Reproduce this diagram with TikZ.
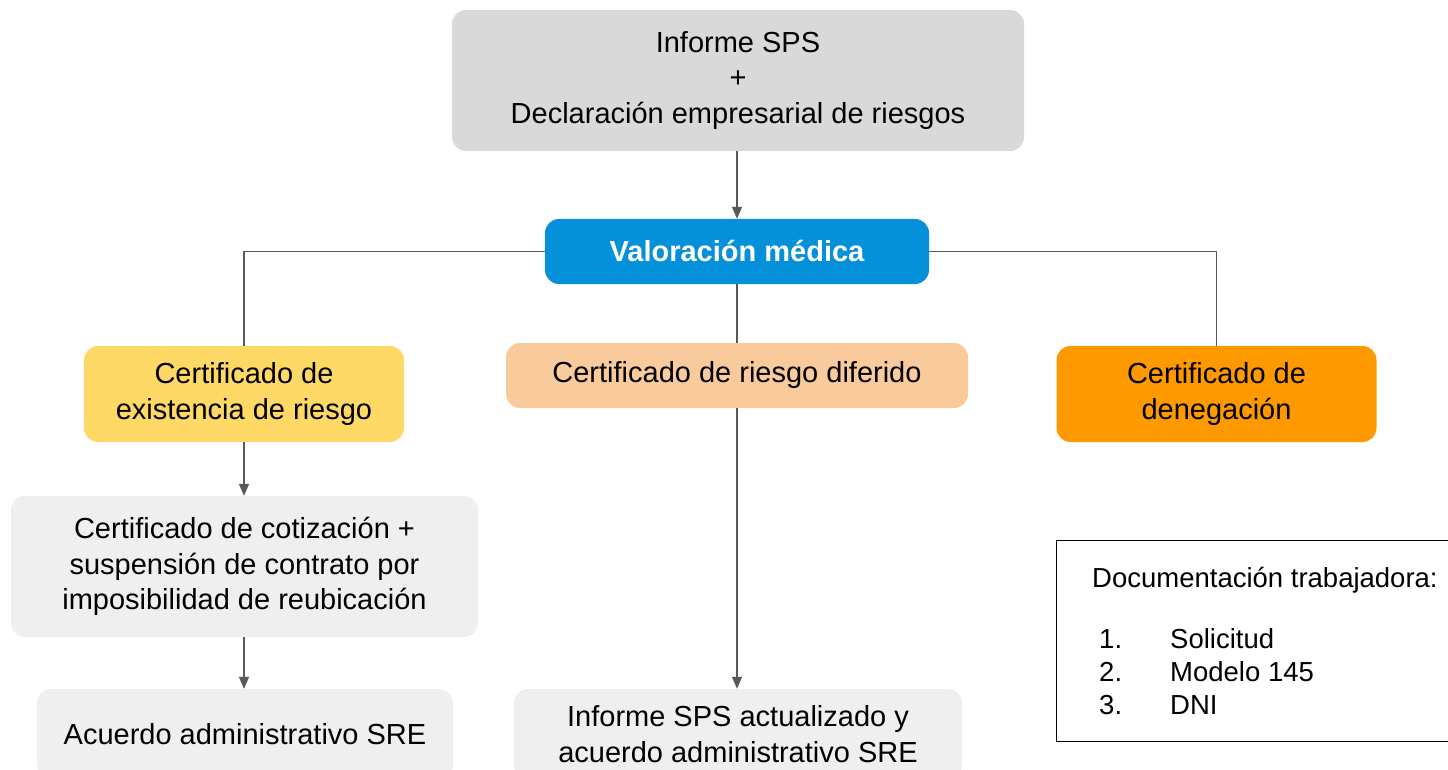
\documentclass[tikz,border=0pt]{standalone}
\usepackage{fontspec}
\setmainfont{Liberation Sans}
\usetikzlibrary{arrows.meta, positioning}
\definecolor{gristop}{HTML}{D9D9D9}
\definecolor{grisclaro}{HTML}{EFEFEF}
\definecolor{azul}{HTML}{0591DA}
\definecolor{amarillo}{HTML}{FFD966}
\definecolor{melocoton}{HTML}{F9CB9C}
\definecolor{naranja}{HTML}{FF9900}
\definecolor{linea}{HTML}{595959}
\tikzset{
    card/.style={rectangle, rounded corners=14pt, align=center, inner sep=0pt,
        font=\fontsize{29}{35.5}\selectfont},
    link/.style={draw=linea, line width=1.5pt},
    arrow/.style={link, -{Triangle[length=12pt, width=10pt]}}
}

\begin{document}
\begin{tikzpicture}[x=1pt, y=-1pt]
    \useasboundingbox (0,0) rectangle (1448,770);
    \clip (0,0) rectangle (1448,770);
    % nodos
    \node[card, fill=gristop, minimum width=572pt, minimum height=141pt] (sps) at (738,80.5)
        {Informe SPS\\+\\Declaración empresarial de riesgos};
    \node[card, fill=azul, text=white, font=\fontsize{29}{35}\selectfont\bfseries,
        minimum width=384pt, minimum height=65pt] (val) at (737,251.5) {Valoración médica};
    \node[card, fill=amarillo, minimum width=320pt, minimum height=96pt] (exist) at (244,394)
        {Certificado de\\existencia de riesgo};
    \node[card, fill=melocoton, minimum width=462pt, minimum height=65pt] (dif) at (737,375.5)
        {Certificado de riesgo diferido};
    \node[card, fill=naranja, minimum width=320pt, minimum height=96pt] (den) at (1216.5,394)
        {Certificado de\\denegación};
    \node[card, fill=grisclaro, minimum width=467pt, minimum height=141pt] (coti) at (244.5,566.5)
        {Certificado de cotización +\\suspensión de contrato por\\imposibilidad de reubicación};
    \node[card, fill=grisclaro, minimum width=416pt, minimum height=90pt] (acu) at (245,734)
        {Acuerdo administrativo SRE};
    \node[card, fill=grisclaro, minimum width=448pt, minimum height=90pt] (act) at (738,734)
        {Informe SPS actualizado y\\acuerdo administrativo SRE};
    \node[draw=black, line width=1.4pt, anchor=north west, minimum width=420pt, minimum height=201pt,
        inner sep=0pt] (docs) at (1056,540) {};
    \node[anchor=north west, align=left, inner sep=0pt, font=\fontsize{27.5}{33}\selectfont] (lista)
        at ([xshift=36pt, yshift=-27pt]docs.north west)
        {Documentación trabajadora:\\[28pt]
         \hspace*{7pt}\makebox[71pt][l]{1.}Solicitud\\
         \hspace*{7pt}\makebox[71pt][l]{2.}Modelo 145\\
         \hspace*{7pt}\makebox[71pt][l]{3.}DNI};
    % conectores
    \draw[arrow] (sps.south -| val.north) -- (val.north);
    \draw[link] (val.west) -| (exist.north);
    \draw[link] (val.east) -| (den.north);
    \draw[link] (val.south) -- (dif.north);
    \draw[arrow] (exist.south) -- (coti.north -| exist.south);
    \draw[arrow] (coti.south -| exist.south) -- (acu.north -| exist.south);
    \draw[arrow] (dif.south) -- (act.north -| dif.south);
\end{tikzpicture}
\end{document}
